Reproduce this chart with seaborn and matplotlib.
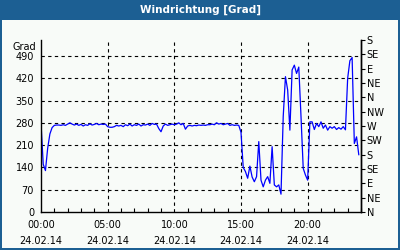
import numpy as np
import pandas as pd
import matplotlib
matplotlib.use("Agg")
import matplotlib.pyplot as plt
import matplotlib.transforms as mtransforms
from matplotlib.patches import Rectangle
import seaborn as sns

# ---- data (10-minute values, 24.02.14) ----
wind_dir = [
    280, 150, 130, 200, 245, 265,
    272, 273, 273, 272, 274, 272, 276, 280, 276, 273, 276, 272, 275, 270,
    274, 272, 277, 273, 275, 278, 274, 276, 275, 276, 268, 266, 266, 268,
    272, 270, 272, 268, 274, 271, 276, 270, 274, 272, 276, 270, 274, 273,
    276, 272, 278, 275, 276, 262, 252, 270, 276, 272, 274, 276, 274, 276,
    280, 274, 278, 260, 270, 272, 270, 272, 271, 273, 272, 273, 272, 274,
    274, 276, 274, 280, 276, 278, 274, 276, 278, 272, 274, 272, 273, 272,
    250, 140, 127, 106, 144, 110, 95, 111, 221, 100, 79, 100, 111, 90,
    205, 85, 79, 85, 56, 300, 425, 383, 257, 446, 461, 435, 455, 300,
    137, 116, 100, 283, 283, 259, 278, 268, 283, 263, 273, 257, 268, 263,
    268, 259, 265, 260, 268, 258, 420, 475, 485, 215, 236, 180,
]
hours = np.arange(len(wind_dir)) / 6.0

left_ticks = [0, 70, 140, 210, 280, 350, 420, 490]
right_ticks = [0, 45, 90, 135, 180, 225, 270, 315, 360, 405, 450, 495, 540]
right_labels = ["N", "NE", "E", "SE", "S", "SW", "W", "NW", "N", "NE", "E", "SE", "S"]
x_ticks = [0, 5, 10, 15, 20]
x_labels = ["00:00\n24.02.14", "05:00\n24.02.14", "10:00\n24.02.14",
            "15:00\n24.02.14", "20:00\n24.02.14"]
title = "Windrichtung [Grad]"
unit = "Grad"

df = pd.DataFrame({"h": hours, "dir": wind_dir})

W, H = 400, 250
fig = plt.figure(figsize=(W / 100, H / 100), dpi=100)
bg = "#f8fbf8"
blue = "#1c5f93"
fig.patch.set_facecolor(bg)

# title bar and frame
fig.patches.append(Rectangle((0, 1 - 20 / H), 1, 20 / H, transform=fig.transFigure,
                             facecolor=blue, edgecolor="none", zorder=0))
fig.patches.append(Rectangle((0, 0), 2 / W, 1, transform=fig.transFigure,
                             facecolor=blue, edgecolor="none", zorder=0))
fig.patches.append(Rectangle((1 - 2 / W, 0), 2 / W, 1, transform=fig.transFigure,
                             facecolor=blue, edgecolor="none", zorder=0))
fig.patches.append(Rectangle((0, 0), 1, 2 / H, transform=fig.transFigure,
                             facecolor=blue, edgecolor="none", zorder=0))
fig.text(0.5, 1 - 10 / H, title, color="white", ha="center", va="center",
         fontsize=7.5, fontweight="bold", family="DejaVu Sans")

ax = fig.add_axes([41 / W, 1 - 212 / H, 320 / W, 172 / H])
ax.set_facecolor(bg)
sns.lineplot(data=df, x="h", y="dir", ax=ax, color="#0000ff", linewidth=0.9)
ax.set_xlim(0, 24)
ax.set_ylim(0, 540)
ax.set_xlabel("")
ax.set_ylabel("")

ax.set_yticks(left_ticks)
ax.set_yticklabels([str(t) for t in left_ticks])
ax.set_xticks(x_ticks)
ax.set_xticklabels(x_labels, linespacing=1.75)
ax.set_xticks(np.arange(0, 25, 1), minor=True)
ax.tick_params(axis="y", length=0, pad=5, labelsize=7, colors="black")
ax.tick_params(axis="x", which="major", length=0, pad=6, labelsize=7)
ax.tick_params(axis="x", which="minor", direction="in", length=3, width=0.8)

for s in ["top"]:
    ax.spines[s].set_visible(False)
for s in ["left", "bottom", "right"]:
    ax.spines[s].set_color("black")
    ax.spines[s].set_linewidth(1)

for x in x_ticks[1:]:
    ax.axvline(x, color="black", lw=0.8, ls=(0, (3, 3)), zorder=0.5)
for y in left_ticks[1:]:
    ax.axhline(y, color="black", lw=0.8, ls=(0, (3, 3)), zorder=0.5)

trans = mtransforms.blended_transform_factory(ax.transAxes, ax.transData)
ax.text(-0.015, 518, unit, transform=trans, ha="right", va="center", fontsize=7)

ax2 = ax.twinx()
ax2.set_ylim(0, 540)
ax2.set_yticks(right_ticks)
ax2.set_yticklabels(right_labels)
ax2.tick_params(axis="y", direction="out", length=3, width=0.8, pad=1, labelsize=7)
ax2.spines["top"].set_visible(False)
ax2.spines["left"].set_visible(False)
ax2.spines["bottom"].set_visible(False)
ax2.spines["right"].set_linewidth(1)

fig.savefig("out.png", dpi=100, facecolor=bg)
